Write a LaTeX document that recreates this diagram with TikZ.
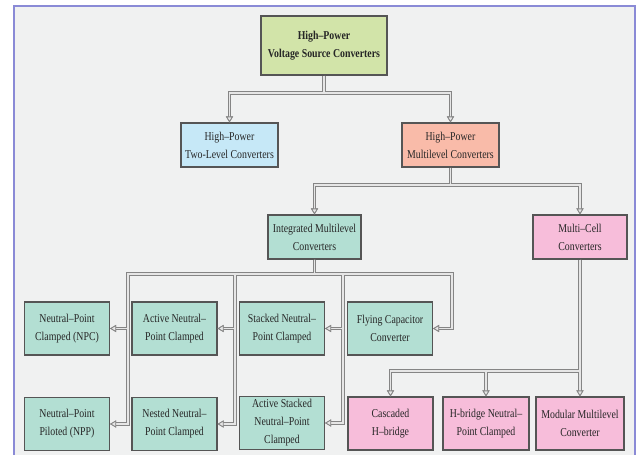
\documentclass[tikz,border=0pt]{standalone}
\usepackage{fontspec}
\setmainfont{Liberation Serif}[FakeStretch=0.82]
\usepackage{tikz}
\usetikzlibrary{arrows.meta,positioning,calc}
\definecolor{vscg}{HTML}{D2E4A9}
\definecolor{twob}{HTML}{C6E8F7}
\definecolor{mlr}{HTML}{F9BBA9}
\definecolor{imt}{HTML}{B3DFD3}
\definecolor{mcp}{HTML}{F7BDDA}
\definecolor{bgc}{HTML}{F0F1F1}
\definecolor{framec}{HTML}{8A8AD6}
\definecolor{boxc}{HTML}{555555}
\definecolor{linkc}{HTML}{858585}
\definecolor{linkin}{HTML}{E6E6E6}
\tikzset{%
  conv/.style={draw=boxc,line width=1.1pt,align=center,inner sep=2pt,text=black!85,
    minimum height=44pt,font=\fontsize{12}{18}\selectfont},
  leaf/.style={conv,fill=imt,minimum width=85pt,minimum height=53pt},
  link/.style={-{Triangle[length=6pt,width=7pt,line width=0.8pt,color=linkc,fill=linkin]}},
}

\begin{document}
\begin{tikzpicture}[x=1pt,y=-1pt]
    \clip (0,0) rectangle (638,455);
    \fill[white] (0,0) rectangle (638,455);
    \draw[framec,fill=bgc,line width=1.5pt] (14,6) rectangle (635,470);
    % upper levels
    \node[conv,fill=vscg,minimum width=126pt,minimum height=59pt,font=\fontsize{12}{18}\selectfont\bfseries]
        (vsc) at (324,45.5) {High–Power\\Voltage Source Converters};
    \node[conv,fill=twob,minimum width=97pt] (two) at (229.5,145) {High–Power\\Two-Level Converters};
    \node[conv,fill=mlr,minimum width=97pt] (ml) at (450.5,145) {High–Power\\Multilevel Converters};
    \node[conv,fill=imt,minimum width=93pt] (im) at (314.5,237) {Integrated Multilevel\\Converters};
    \node[conv,fill=mcp,minimum width=94pt] (mc) at (580,237) {Multi–Cell\\Converters};
    % integrated topologies
    \node[leaf] (npc) at (67,328.5) {Neutral–Point\\Clamped (NPC)};
    \node[leaf] (anpc) at (174.5,328.5) {Active Neutral–\\Point Clamped};
    \node[leaf] (snpc) at (282,328.5) {Stacked Neutral–\\Point Clamped};
    \node[leaf] (fc) at (390,328.5) {Flying Capacitor\\Converter};
    \node[leaf] (npp) at (67,424) {Neutral–Point\\Piloted (NPP)};
    \node[leaf] (nnpc) at (174.5,424) {Nested Neutral–\\Point Clamped};
    \node[leaf] (asnpc) at (282,423) {Active Stacked\\Neutral–Point\\Clamped};
    % multi-cell topologies
    \node[leaf,fill=mcp] (chb) at (390.5,423.5) {Cascaded\\H–bridge};
    \node[leaf,fill=mcp,minimum width=86pt] (hnpc) at (486,423.5) {H-bridge Neutral–\\Point Clamped};
    \node[leaf,fill=mcp,minimum width=88pt] (mmc) at (580,423.5) {Modular Multilevel\\Converter};
    % junctions
    \coordinate (j1) at (324,93);
    \coordinate (j2) at (450.5,185);
    \coordinate (va) at (128,274);
    \coordinate (vb) at (235,274);
    \coordinate (vc) at (343,274);
    \coordinate (vd) at (452,274);
    \coordinate (j4) at (580,371);
    % double connectors: outer pass, then inner pass
    \foreach \lw/\lc in {3.6pt/linkc,1.4pt/linkin}{
        \draw[link,line width=\lw,draw=\lc] (vsc.south) -- (j1) -| (two.north);
        \draw[link,line width=\lw,draw=\lc] (vsc.south) -- (j1) -| (ml.north);
        \draw[link,line width=\lw,draw=\lc] (ml.south) -- (j2) -| (im.north);
        \draw[link,line width=\lw,draw=\lc] (ml.south) -- (j2) -| (mc.north);
        \draw[link,line width=\lw,draw=\lc] (im.south) |- (va) |- (npc.east);
        \draw[link,line width=\lw,draw=\lc] (im.south) |- (va) |- (npp.east);
        \draw[link,line width=\lw,draw=\lc] (im.south) |- (vb) |- (anpc.east);
        \draw[link,line width=\lw,draw=\lc] (im.south) |- (vb) |- (nnpc.east);
        \draw[link,line width=\lw,draw=\lc] (im.south) |- (vc) |- (snpc.east);
        \draw[link,line width=\lw,draw=\lc] (im.south) |- (vc) |- (asnpc.east);
        \draw[link,line width=\lw,draw=\lc] (im.south) |- (vd) |- (fc.east);
        \draw[link,line width=\lw,draw=\lc] (mc.south) -- (j4) -| (chb.north);
        \draw[link,line width=\lw,draw=\lc] (mc.south) -- (j4) -| (hnpc.north);
        \draw[link,line width=\lw,draw=\lc] (mc.south) -- (mmc.north);
    }
\end{tikzpicture}
\end{document}
